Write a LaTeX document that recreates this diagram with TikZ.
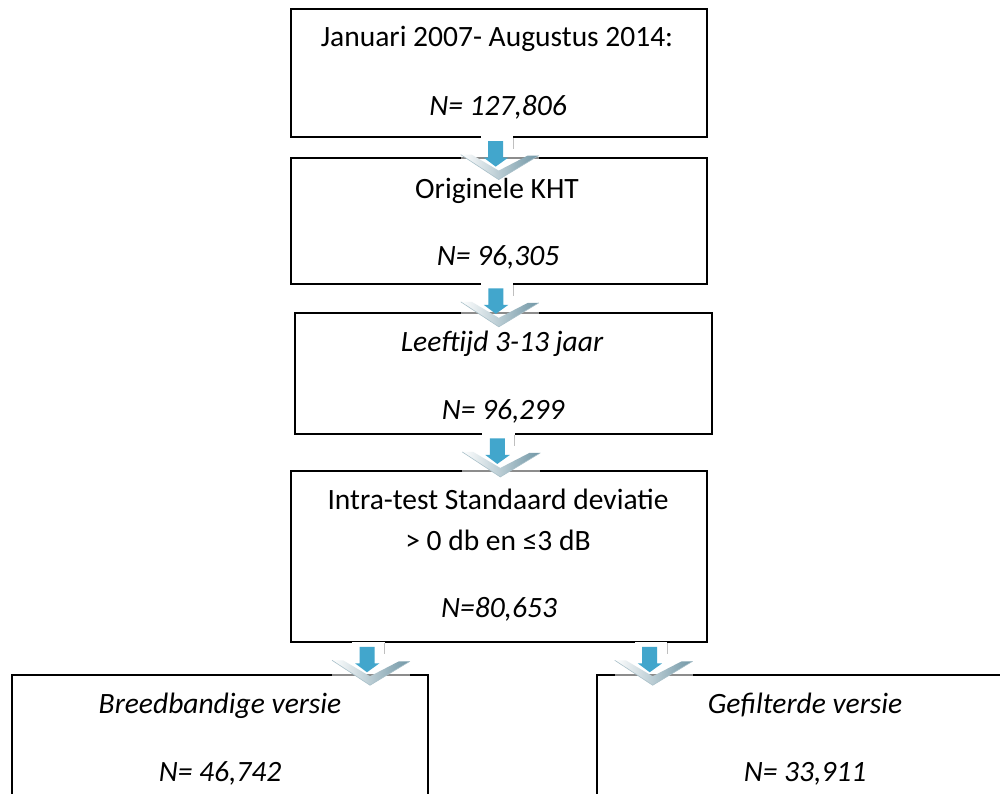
\documentclass[tikz,border=0pt]{standalone}
\usepackage{fontspec}
\setmainfont{Carlito}
\begin{document}
\begin{tikzpicture}[x=1pt,y=-1pt,
  box/.style={draw=black, line width=1.8pt, fill=white, inner sep=0pt},
  lbl/.style={anchor=base, inner sep=0pt, font=\fontsize{29.5}{34}\selectfont},
  ilbl/.style={lbl, font=\fontsize{29.5}{34}\selectfont\itshape},
  flowarrow/.pic={
    \fill[white, opacity=0.55] (-38,12) rectangle (40,40);
    \fill[white] (-18,-1.6) rectangle (14.5,13);
    \draw[black!25, line width=1pt] (14.5,0) -- (14.5,11);
    \shade[left color=white, right color=chevR]
      (-38,17) -- (0,42) -- (40,18) -- (29,18) -- (0,33) -- (-27,17) -- cycle;
    \draw[chevR!60, line width=0.6pt] (-38,17) -- (0,42) -- (40,18);
    \fill[arrowblue] (-10.5,3.5) -- (4.5,3.5) -- (4.5,20) -- (9.5,20)
      -- (-3,29) -- (-15,20) -- (-10.5,20) -- cycle;
  }]
\definecolor{arrowblue}{RGB}{66,166,204}
\definecolor{chevR}{RGB}{112,150,165}
\useasboundingbox (0,0) rectangle (1000,793);
\clip (0,0) rectangle (1000,793);
\fill[white] (0,0) rectangle (1000,793);
% boxes
\node[box, minimum width=416pt, minimum height=127.4pt] (b1) at (498.7,73) {};
\node[box, minimum width=416.3pt, minimum height=126.3pt] (b2) at (498.8,220.8) {};
\node[box, minimum width=416.7pt, minimum height=120.7pt] (b3) at (503.3,373.7) {};
\node[box, minimum width=416pt, minimum height=171.3pt] (b4) at (498.7,556.7) {};
\node[box, minimum width=416.3pt, minimum height=140pt] (b5) at (219.8,745) {};
\node[box, minimum width=416.3pt, minimum height=140pt] (b6) at (804.8,745) {};
% texts
\node[lbl] (t1a) at (497,46) {Januari 2007- Augustus 2014:};
\node[ilbl] (t1b) at (498,115) {N= 127,806};
\node[lbl] (t2a) at (497,198) {Originele KHT};
\node[ilbl] (t2b) at (498,265) {N= 96,305};
\node[ilbl] (t3a) at (502,351.7) {Leeftijd 3-13 jaar};
\node[ilbl] (t3b) at (503,419) {N= 96,299};
\node[lbl] (t4a) at (498,509) {Intra-test Standaard deviatie};
\node[lbl] (t4b) at (498,550) {> 0 db en ≤3 dB};
\node[ilbl] (t4c) at (499,617.7) {N=80,653};
\node[ilbl] (t5a) at (220,713) {Breedbandige versie};
\node[ilbl] (t5b) at (220,781.7) {N= 46,742};
\node[ilbl] (t6a) at (805,713) {Gefilterde versie};
\node[ilbl] (t6b) at (805,781.7) {N= 33,911};
% arrows
\pic at (b1.south) {flowarrow};
\pic at (b2.south) {flowarrow};
\pic at ([xshift=-3pt]b3.south) {flowarrow};
\pic at ([xshift=-128.7pt]b4.south) {flowarrow};
\pic at ([xshift=154pt]b4.south) {flowarrow};
\end{tikzpicture}
\end{document}
